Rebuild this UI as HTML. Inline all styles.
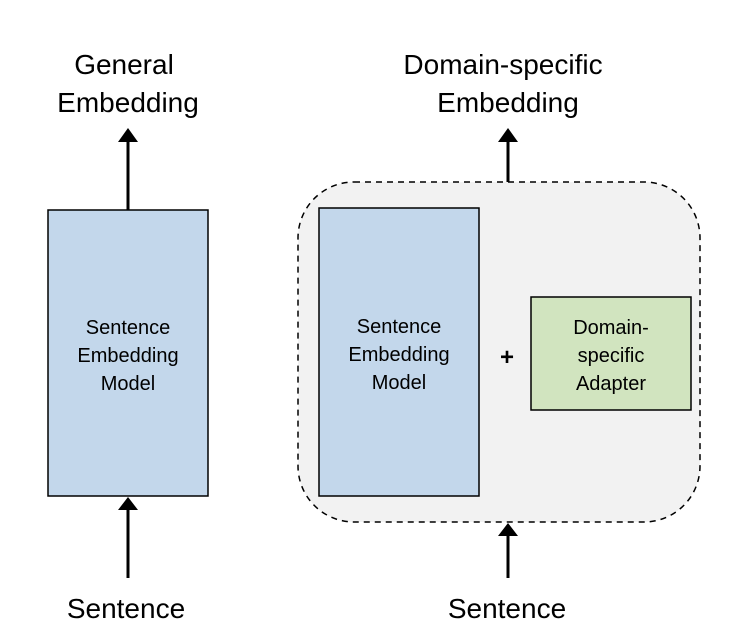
<!DOCTYPE html>
<html><head><style>body{margin:0;background:#fff}</style></head><body>
<svg width="754" height="638" viewBox="0 0 754 638" xmlns="http://www.w3.org/2000/svg" font-family="Liberation Sans, Arial, sans-serif">
<rect x="298" y="182" width="402" height="340" rx="56" fill="#f2f2f2" stroke="#000" stroke-width="1.5" stroke-dasharray="6,5"/>
<rect x="48" y="210" width="160" height="286" fill="#c3d7eb" stroke="#000" stroke-width="1.5"/>
<rect x="319" y="208" width="160" height="288" fill="#c3d7eb" stroke="#000" stroke-width="1.5"/>
<rect x="531" y="297" width="160" height="113" fill="#d1e4bf" stroke="#000" stroke-width="1.5"/>
<g stroke="#000" stroke-width="3">
<line x1="128" y1="210" x2="128" y2="140"/>
<line x1="128" y1="578" x2="128" y2="508"/>
<line x1="508" y1="182" x2="508" y2="140"/>
<line x1="508" y1="578" x2="508" y2="534"/>
</g>
<g fill="#000">
<polygon points="118,142 138,142 128,128"/>
<polygon points="118,510 138,510 128,497"/>
<polygon points="498,142 518,142 508,128"/>
<polygon points="498,536 518,536 508,523"/>
</g>
<g font-size="28" text-anchor="middle" fill="#000">
<text x="124" y="74">General</text>
<text x="128" y="112">Embedding</text>
<text x="503" y="74">Domain-specific</text>
<text x="508" y="112">Embedding</text>
<text x="126" y="618">Sentence</text>
<text x="507" y="618">Sentence</text>
</g>
<g font-size="20" text-anchor="middle" fill="#000">
<text x="128" y="334">Sentence</text>
<text x="128" y="362">Embedding</text>
<text x="128" y="390">Model</text>
<text x="399" y="333">Sentence</text>
<text x="399" y="361">Embedding</text>
<text x="399" y="389">Model</text>
<text x="611" y="334">Domain-</text>
<text x="611" y="362">specific</text>
<text x="611" y="390">Adapter</text>
<text x="507" y="365" font-size="24" font-weight="bold">+</text>
</g>
</svg>
</body></html>
